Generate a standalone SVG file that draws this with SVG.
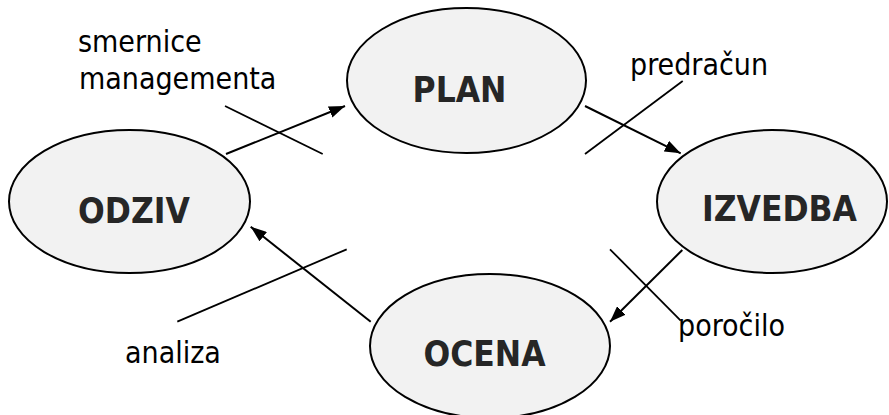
<svg xmlns="http://www.w3.org/2000/svg" width="889" height="415" viewBox="0 0 889 415">
<style>
.node ellipse{fill:#f2f2f2;stroke:#000;stroke-width:2}
.node text{font-family:"DejaVu Sans Condensed","DejaVu Sans",sans-serif;font-stretch:condensed;font-weight:bold;font-size:35px;fill:#262626;text-anchor:middle}
.lbl{font-family:"DejaVu Sans Condensed","DejaVu Sans",sans-serif;font-stretch:condensed;font-size:30px;fill:#000}
.arr{stroke:#000;stroke-width:2;fill:none;marker-end:url(#ah)}
.x{stroke:#000;stroke-width:1.8;fill:none}
</style>
<defs>
<marker id="ah" viewBox="0 0 16 12" refX="16" refY="6" markerWidth="16" markerHeight="12" markerUnits="userSpaceOnUse" orient="auto">
<path d="M0,0 L16,6 L0,12 z" fill="#000"/>
</marker>
</defs>
<g id="plan" class="node"><ellipse cx="466.5" cy="80.5" rx="119.5" ry="72.5"/><text x="459.5" y="102">PLAN</text></g>
<g id="odziv" class="node"><ellipse cx="129.5" cy="201.5" rx="120.5" ry="71.5"/><text x="134" y="222.5">ODZIV</text></g>
<g id="izvedba" class="node"><ellipse cx="772" cy="201.5" rx="115" ry="71.5"/><text x="779.5" y="221">IZVEDBA</text></g>
<g id="ocena" class="node"><ellipse cx="490" cy="346" rx="120" ry="72"/><text x="484.5" y="365.5">OCENA</text></g>
<g id="connectors">
<line class="arr" x1="226" y1="154" x2="345" y2="106"/>
<line class="x" x1="225" y1="106" x2="322.7" y2="154"/>
<line class="arr" x1="585" y1="106" x2="680.7" y2="153.3"/>
<line class="x" x1="682.7" y1="81" x2="585" y2="154"/>
<line class="arr" x1="682.3" y1="250" x2="610" y2="321.7"/>
<line class="x" x1="610" y1="249.3" x2="680.7" y2="320.7"/>
<line class="arr" x1="370.7" y1="321.7" x2="250.7" y2="226.7"/>
<line class="x" x1="346.7" y1="249.3" x2="177.3" y2="321.7"/>
</g>
<g id="labels">
<text class="lbl" x="78" y="52">smernice</text>
<text class="lbl" x="79" y="89">managementa</text>
<text class="lbl" x="630" y="75">predračun</text>
<text class="lbl" x="125" y="363">analiza</text>
<text class="lbl" x="678" y="336">poročilo</text>
</g>
</svg>
